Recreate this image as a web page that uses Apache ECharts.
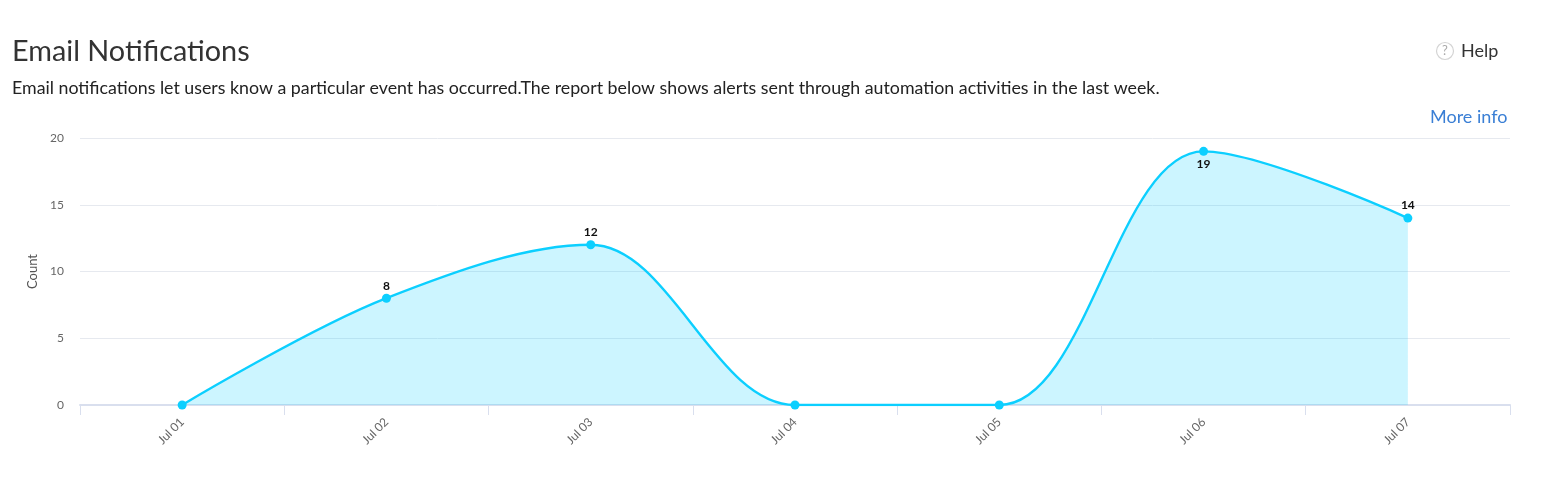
<!DOCTYPE html>
<html><head><meta charset="utf-8">
<script src="https://cdn.jsdelivr.net/npm/echarts@6/dist/echarts.min.js"></script>
<style>html,body{margin:0;padding:0;background:#fff}#c{width:1566px;height:482px}</style>
</head><body><div id="c"></div>
<script>
const categories = ['Jul 01','Jul 02','Jul 03','Jul 04','Jul 05','Jul 06','Jul 07'];
const counts = [0,8,12,0,0,19,14];
const yTicks = {min:0,max:20,interval:5};
const labelBelow = {5:true};
const chart = echarts.init(document.getElementById('c'),null,{renderer:'canvas'});
const font='Lato';
chart.setOption({
  animation:false,
  title:[
    {text:'Email Notifications',left:12,top:37,padding:0,textStyle:{fontFamily:font,fontSize:28.8,fontWeight:400,color:'#333333'}},
    {text:'Email notifications let users know a particular event has occurred.The report below shows alerts sent through automation activities in the last week.',left:12,top:79,padding:0,textStyle:{fontFamily:font,fontSize:17.8,fontWeight:400,color:'#222222'}},
    {text:'Help',left:1461,top:42,padding:0,textStyle:{fontFamily:font,fontSize:18,fontWeight:400,color:'#333333'}},
    {text:'More info',left:1430,top:108,padding:0,textStyle:{fontFamily:font,fontSize:18,fontWeight:400,color:'#3A7FD5'}}
  ],
  graphic:[
    {type:'circle',shape:{cx:1445,cy:51,r:8.5},style:{fill:'#fff',stroke:'#d4d4d4',lineWidth:1.2}},
    {type:'text',x:1445,y:51,style:{text:'?',fontFamily:font,fontSize:13,fill:'#aaaaaa',align:'center',verticalAlign:'middle'}}
  ],
  grid:{left:80,right:56,top:138,bottom:77},
  xAxis:{type:'category',data:categories,boundaryGap:true,
    axisLine:{lineStyle:{color:'#D9DFEE',width:2}},
    axisTick:{show:true,alignWithLabel:false,length:10,lineStyle:{color:'#D9DFEE',width:1}},
    axisLabel:{rotate:45,interval:0,margin:15,fontFamily:font,fontSize:12,color:'#666666'},
    splitLine:{show:false}},
  yAxis:{type:'value',min:yTicks.min,max:yTicks.max,interval:yTicks.interval,name:'Count',nameLocation:'middle',nameRotate:90,nameGap:41,
    nameTextStyle:{fontFamily:font,fontSize:13,color:'#555555'},
    axisLine:{show:false},axisTick:{show:false},
    axisLabel:{margin:16,fontFamily:font,fontSize:12,color:'#666666'},
    splitLine:{lineStyle:{color:'#E6E9EF',width:1}}},
  series:[{type:'line',smooth:0.35,
    data:counts.map((v,i)=>({value:v,label:{position:labelBelow[i]?'bottom':'top'}})),
    symbol:'circle',symbolSize:9,showSymbol:true,
    lineStyle:{color:'#0CCFFF',width:2.4},
    itemStyle:{color:'#0CCFFF'},
    areaStyle:{color:'#0CCFFF',opacity:0.21},
    label:{show:true,distance:2,fontFamily:font,fontSize:12,fontWeight:700,color:'#111111',
      formatter:p=>p.value===0?'':String(p.value)}
  }]
});
</script></body></html>
